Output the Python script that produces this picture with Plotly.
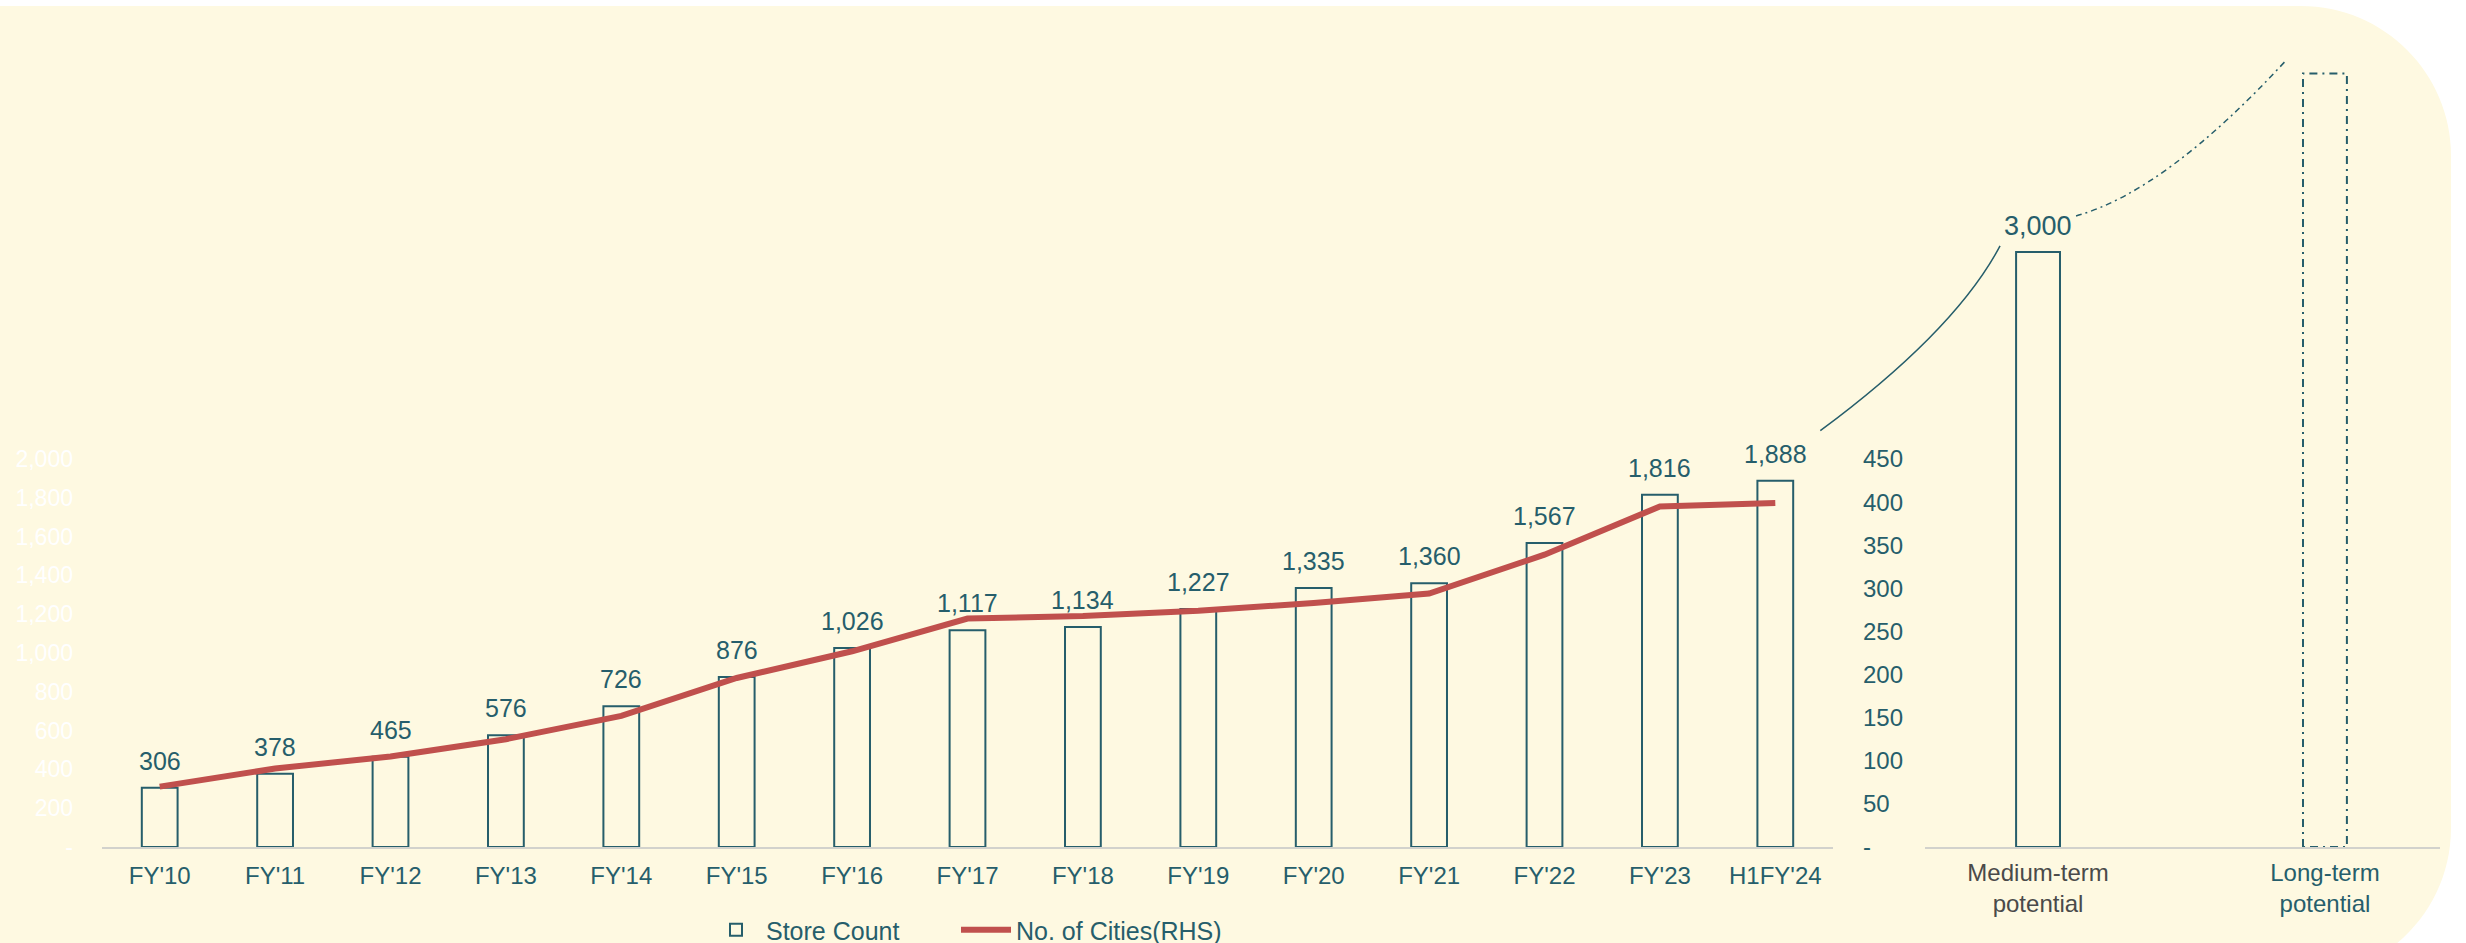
import plotly.graph_objects as go

# ---- data ----
years = ["FY'10", "FY'11", "FY'12", "FY'13", "FY'14", "FY'15", "FY'16", "FY'17",
         "FY'18", "FY'19", "FY'20", "FY'21", "FY'22", "FY'23", "H1FY'24"]
store_count = [306, 378, 465, 576, 726, 876, 1026, 1117, 1134, 1227, 1335, 1360, 1567, 1816, 1888]
cities = [70, 91, 105, 125, 152, 196, 227, 265, 268, 274, 283, 294, 339, 395, 399]

potential_labels = ["Medium-term potential", "Long-term potential"]
potential_values = [3000, 3900]

left_ticks = [0, 200, 400, 600, 800, 1000, 1200, 1400, 1600, 1800, 2000]
right_ticks = [0, 50, 100, 150, 200, 250, 300, 350, 400, 450]

# ---- style ----
W, H = 2466, 943
TEAL = "#265e6b"
RED = "#c0504d"
CREAM = "#fef9e1"
GREY_LINE = "#d2d2cc"
FONT = "Liberation Sans"

# page layout (pixels)
MAIN_X = (102, 1833)
SIDE_X = (1925, 2440)
BASE_Y = 847
MAIN_TOP_Y = 459          # pixel row of 2,000 / 450
LEFT_MAX, RIGHT_MAX = 2000, 450
SIDE_RANGE_X = [-0.394, 1.401]
SIDE_MAX = 4270
bar_w_main = 0.31
bar_w_side = 0.153


def px(x, y):
    return x / W, 1 - y / H


def main_xy(i, v):
    step = (MAIN_X[1] - MAIN_X[0]) / len(years)
    return MAIN_X[0] + (i + 0.5) * step, BASE_Y - v * (BASE_Y - MAIN_TOP_Y) / LEFT_MAX


def side_xy(i, v):
    s = (SIDE_X[1] - SIDE_X[0]) / (SIDE_RANGE_X[1] - SIDE_RANGE_X[0])
    return SIDE_X[0] + (i - SIDE_RANGE_X[0]) * s, BASE_Y - v * BASE_Y / SIDE_MAX


def tick_text(vals):
    return ["-" if v == 0 else f"{v:,}" for v in vals]


fig = go.Figure()

fig.add_trace(go.Bar(
    x=years, y=store_count, name="Store Count", width=bar_w_main,
    marker=dict(color="rgba(0,0,0,0)", line=dict(color=TEAL, width=2)),
    xaxis="x", yaxis="y", legend="legend",
))
fig.add_trace(go.Scatter(
    x=years, y=cities, name="No. of Cities(RHS)", mode="lines",
    line=dict(color=RED, width=6),
    xaxis="x", yaxis="y2", legend="legend2",
))

# medium-term bar (solid) and long-term bar (dash-dot outline)
fig.add_trace(go.Bar(
    x=[0], y=[potential_values[0]], width=bar_w_side, showlegend=False,
    marker=dict(color="rgba(0,0,0,0)", line=dict(color=TEAL, width=2)),
    xaxis="x3", yaxis="y3",
))
lv = potential_values[1]
hw = bar_w_side / 2
fig.add_trace(go.Scatter(
    x=[1 - hw, 1 - hw, 1 + hw, 1 + hw, 1 - hw], y=[0, lv, lv, 0, 0],
    mode="lines", showlegend=False,
    line=dict(color=TEAL, width=2, dash="8px,5px,2px,5px"),
    xaxis="x3", yaxis="y3",
))

# value labels
annotations = []
for yr, v in zip(years, store_count):
    annotations.append(dict(
        x=yr, y=v, xref="x", yref="y", text=f"{v:,}", showarrow=False,
        yanchor="bottom", yshift=11, font=dict(size=25, color=TEAL, family=FONT),
    ))
annotations.append(dict(
    x=0, y=potential_values[0], xref="x3", yref="y3", text=f"{potential_values[0]:,}",
    showarrow=False, yanchor="bottom", yshift=9, font=dict(size=27, color=TEAL, family=FONT),
))

# background panel with rounded right corners
r, k = 150, 0.552 * 150
top, right, bottom, left = 6, 2451, 978, -20
pts = [
    ("M", [(left, top)]),
    ("L", [(right - r, top)]),
    ("C", [(right - r + k, top), (right, top + r - k), (right, top + r)]),
    ("L", [(right, bottom - r)]),
    ("C", [(right, bottom - r + k), (right - r + k, bottom), (right - r, bottom)]),
    ("L", [(left, bottom)]),
]
path = ""
for cmd, ps in pts:
    path += cmd + " ".join("%.5f,%.5f" % px(x, y) for x, y in ps) + " "
path += "Z"
shapes = [dict(type="path", path=path, xref="paper", yref="paper",
               fillcolor=CREAM, line=dict(width=0), layer="below")]

# connector curves
x0, y0 = main_xy(len(years) - 1, store_count[-1])
mx, my = side_xy(0, potential_values[0])
lx, ly = side_xy(1, potential_values[1])
a = (x0 + 45, y0 - 50)
b = (mx - 38, my - 6)
shapes.append(dict(
    type="path", xref="paper", yref="paper", line=dict(color=TEAL, width=1.5),
    path="M%.5f,%.5f Q%.5f,%.5f %.5f,%.5f" % (*px(*a), *px(b[0] - 45, b[1] + 85), *px(*b)),
))
d0 = (mx + 38, my - 36)
d1 = (lx - 38, ly - 14)
shapes.append(dict(
    type="path", xref="paper", yref="paper",
    line=dict(color=TEAL, width=1.5, dash="6px,4px,2px,4px"),
    path="M%.5f,%.5f Q%.5f,%.5f %.5f,%.5f" % (*px(*d0), *px(d0[0] + 90, d0[1] - 25), *px(*d1)),
))

y_dom = [1 - BASE_Y / H, 1 - MAIN_TOP_Y / H]
legend_style = dict(orientation="h", xanchor="left", y=1 - 930 / H, yanchor="middle",
                    font=dict(size=25, color=TEAL, family=FONT), bgcolor="rgba(0,0,0,0)",
                    itemwidth=50)

fig.update_layout(
    width=W, height=H, autosize=False,
    margin=dict(l=0, r=0, t=0, b=0, pad=0, autoexpand=False),
    paper_bgcolor="white", plot_bgcolor="rgba(0,0,0,0)",
    font=dict(family=FONT, color=TEAL, size=23),
    showlegend=True,
    legend=dict(x=706 / W, **legend_style),
    legend2=dict(x=956 / W, **legend_style),
    xaxis=dict(domain=[MAIN_X[0] / W, MAIN_X[1] / W], type="category", automargin=False,
               showline=True, linecolor=GREY_LINE, linewidth=2, ticks="",
               ticklabelstandoff=6, tickfont=dict(size=24, color=TEAL),
               showgrid=False, zeroline=False, fixedrange=True),
    yaxis=dict(domain=y_dom, range=[0, LEFT_MAX], tickvals=left_ticks, automargin=False,
               ticktext=tick_text(left_ticks), tickfont=dict(size=23, color="white"),
               showgrid=False, zeroline=False, showline=False, ticklabelstandoff=28),
    yaxis2=dict(overlaying="y", side="right", range=[0, RIGHT_MAX], tickvals=right_ticks,
                ticktext=tick_text(right_ticks), tickfont=dict(size=24, color=TEAL),
                automargin=False,
                showgrid=False, zeroline=False, showline=False, ticklabelstandoff=29),
    xaxis3=dict(domain=[SIDE_X[0] / W, SIDE_X[1] / W], anchor="y3", range=SIDE_RANGE_X,
                tickvals=[0, 1], automargin=False,
                ticktext=["<span style='color:#4a4a4a'>Medium-term</span><br>"
                          "<span style='color:#4a4a4a'>potential</span>",
                          "Long-term<br>potential"],
                showline=True, linecolor=GREY_LINE, linewidth=2, ticks="",
                ticklabelstandoff=3, tickfont=dict(size=24, color=TEAL),
                showgrid=False, zeroline=False),
    yaxis3=dict(domain=[y_dom[0], 1], anchor="x3", range=[0, SIDE_MAX], visible=False,
                automargin=False),
    annotations=annotations,
    shapes=shapes,
)

fig.write_html("out.html", config={"displayModeBar": False},
               post_script="document.body.style.margin='0';")
